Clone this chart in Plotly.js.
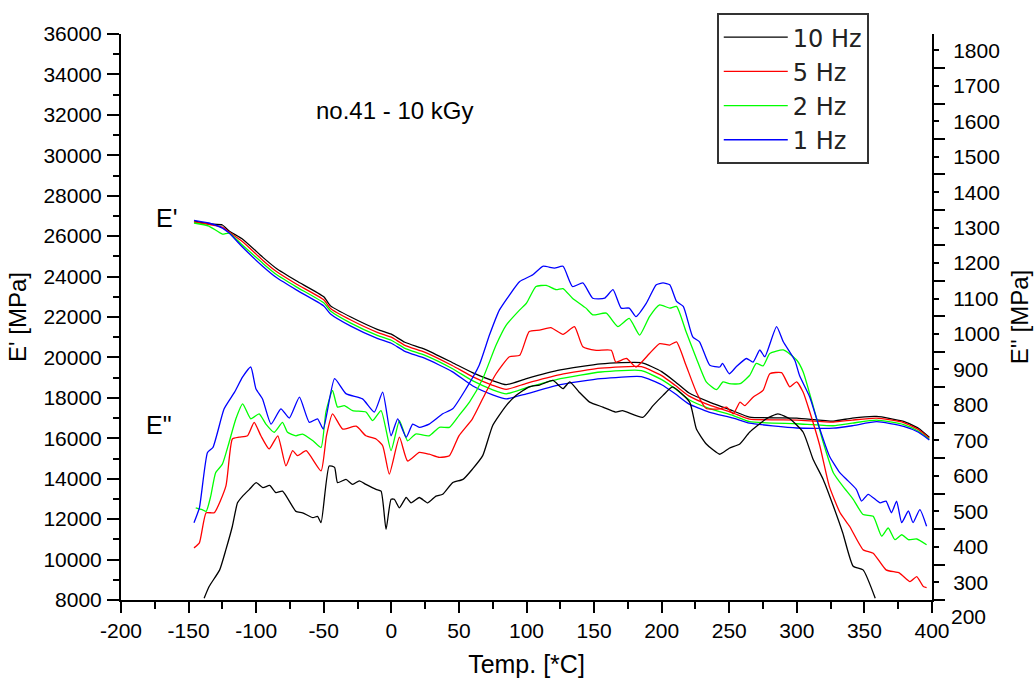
<!DOCTYPE html>
<html>
<head>
<meta charset="utf-8">
<script src="https://cdn.plot.ly/plotly-3.0.1.min.js"></script>
<style>
html,body{margin:0;padding:0;background:#fff;}
#chart{width:1034px;height:681px;}
</style>
</head>
<body>
<div id="chart"></div>
<script>
// ---------- DATA ----------
const seriesNames = ["10 Hz", "5 Hz", "2 Hz", "1 Hz"];
const seriesColors = ["#000000", "#ff0000", "#00ff00", "#0000ff"];

// E' (storage modulus, left axis) - common temperature grid
const tempStorage = [-146,-135,-125,-120,-110,-95,-85,-70,-50,-45,-30,-10,0,10,25,45,60,75,85,100,125,155,185,200,210,220,235,253,265,300,327,341,359,379,390,398];
const storage10Hz = [26750,26600,26550,26250,25850,24950,24400,23780,23000,22550,22000,21380,21150,20750,20400,19750,19250,18850,18650,18950,19380,19680,19740,19300,18800,18250,17800,17350,17050,17000,16850,17000,17080,16840,16500,16050];
const storage5Hz  = [26700,26580,26450,26200,25720,24800,24250,23620,22850,22420,21850,21230,21000,20600,20250,19600,19050,18620,18420,18720,19150,19470,19540,19100,18620,18100,17650,17250,16950,16900,16800,16900,17000,16780,16430,16000];
const storage2Hz  = [26650,26500,26100,26150,25550,24650,24100,23480,22700,22300,21700,21080,20850,20450,20100,19450,18850,18400,18200,18500,18950,19280,19350,18900,18450,17920,17480,17120,16820,16720,16620,16750,16900,16680,16350,15950];
const storage1Hz  = [26780,26650,26400,26150,25450,24500,23950,23330,22550,22150,21550,20930,20700,20300,19950,19300,18600,18150,17950,18200,18650,18950,19050,18650,18200,17700,17300,17000,16750,16510,16500,16620,16820,16590,16300,15920];

// E'' (loss modulus, right axis)
const tempLoss10Hz = [-138.5,-134.8,-127,-122.4,-117.6,-113.8,-110,-105,-100,-95,-90,-85.4,-80.5,-70.6,-65.7,-58,-54.6,-52,-46,-42,-39.8,-33.6,-28.6,-23.7,-18.8,-11.3,-7.6,-3.9,-0.2,2.2,6,11,14.6,20.7,27,33,38,45.4,53,60,67.6,75,85,92.4,102,109.6,119.5,127,132,139,146.7,156.5,166,171,186,193.6,201,208,220.7,225.7,233,243,250,257.8,265,277.5,286,294.8,304.7,312,319.5,327,334,341.7,349,358];
const loss10Hz = [255,288,335,392,458,524,543,562,581,567,573,553,557,500,496,482,486,468,628,624,581,590,576,586,576,562,557,449,534,534,510,539,524,539,524,543,548,581,590,619,657,742,798,827,851,856,869,846,865,836,808,794,780,784,765,798,827,851,808,732,690,661,678,690,723,761,775,761,723,647,590,515,439,345,335,255];

const tempLoss5Hz = [-146,-142,-137,-131,-122.4,-117.6,-112.6,-106.4,-101.5,-96.5,-90.4,-84,-78,-73,-69.4,-63,-52,-48,-43.5,-36,-26,-18.8,-11.3,-6.4,-1.5,6,12,20.7,28,35.6,43,50,60,70,77.5,87.4,95,102,109.6,118,127,135.5,141.7,151.6,162.7,166,174,181,191,198.5,206,211,218,225.7,233,243,248,253,258,261.5,267.6,275,280,288.7,294.8,299.8,304.7,309.6,317,324,332,339,349,356.5,366,376,383.7,388.7,393.6,396];
const loss5Hz = [397,411,496,496,571,704,709,713,751,713,676,713,628,671,657,671,614,713,775,732,740,713,704,685,605,709,642,666,661,652,657,713,761,836,888,936,940,1007,1011,1018,999,1021,964,954,954,921,931,907,945,973,969,978,912,836,790,789,794,775,808,798,822,841,888,891,851,865,836,780,685,571,496,458,392,382,335,326,302,316,288,285];

const tempLoss2Hz = [-144.7,-140,-137,-133.6,-130,-125,-120,-115,-110,-104,-97.8,-92.8,-86.7,-80.5,-76.8,-70.6,-65.7,-58,-52,-48.4,-43.5,-39.8,-34.8,-28.6,-18.8,-13.8,-7.6,-0.2,6,12,18,28,35.6,43,50,57.8,67.6,77.5,85,95,100,107,114.6,122,127,134,144,149,159,167.6,176,183.7,191,198.5,206,211,218,225.7,233,240.5,245.4,250,258,265,270,275,280,290,300,304.7,312,319.5,327,334,341.7,349,356.5,362.7,367.6,372.6,377.6,382.5,388.7,396];
const loss2Hz = [510,505,500,543,609,633,695,761,803,761,775,746,723,751,723,713,718,699,680,780,841,794,798,784,780,756,784,671,756,699,718,713,737,737,770,808,874,969,1025,1068,1087,1134,1137,1125,1128,1101,1073,1054,1059,1021,1044,997,1049,1082,1073,1078,1007,931,865,843,865,860,860,883,917,910,945,955,926,893,798,695,609,571,534,491,486,430,453,420,434,420,422,406];

const tempLoss1Hz = [-146,-142,-136,-132,-123.7,-116,-110,-104,-100.2,-95.3,-89,-81.7,-75.5,-68,-60.7,-54.6,-50.4,-42,-33.6,-21.3,-12.6,-6.4,-0.2,4.7,11,15.8,20.7,28,38,45.4,55.3,65,72.6,80,87.4,95,104.7,112,120.7,127,134,141.7,149,157.8,164,170,176,181,188.7,196,201,206,211,216,223,228,235.6,243,245,250,255,262.7,267.6,272.6,276.3,285,290,298.5,302,309.6,317,324,331.8,336.8,344,347.9,352.8,361.5,366,370,373.8,377.6,382.5,386,391,396];
const loss1Hz = [468,510,666,680,789,836,879,907,846,817,746,789,763,822,751,761,732,874,832,817,780,836,713,761,709,746,737,746,775,789,846,912,997,1068,1110,1148,1167,1191,1186,1191,1134,1144,1101,1101,1125,1073,1073,1049,1087,1139,1144,1139,1092,1078,992,978,912,907,917,888,907,931,921,955,936,1021,978,926,883,822,732,657,609,590,562,529,548,524,529,496,529,468,501,468,505,458];

// axis ticks
const leftTicks = [8000,10000,12000,14000,16000,18000,20000,22000,24000,26000,28000,30000,32000,34000,36000];
const leftTickText = ["8000","10000","12000","14000","16000","18000","20000","22000","24000","26000","28000","30000","32000","34000","36000"];
const rightTicks = [300,400,500,600,700,800,900,1000,1100,1200,1300,1400,1500,1600,1700,1800];
const rightTickText = ["300","400","500","600","700","800","900","1000","1100","1200","1300","1400","1500","1600","1700","1800"];
const xTicks = [-200,-150,-100,-50,0,50,100,150,200,250,300,350,400];
const xTickText = ["-200","-150","-100","-50","0","50","100","150","200","250","300","350","400"];

// ---------- TRACES ----------
const storageY = [storage10Hz, storage5Hz, storage2Hz, storage1Hz];
const lossX = [tempLoss10Hz, tempLoss5Hz, tempLoss2Hz, tempLoss1Hz];
const lossY = [loss10Hz, loss5Hz, loss2Hz, loss1Hz];

const traces = [];
for (let i = 0; i < 4; i++) {
  traces.push({
    x: tempStorage, y: storageY[i], type: 'scatter', mode: 'lines',
    name: seriesNames[i], legendgroup: seriesNames[i], showlegend: true,
    line: {color: seriesColors[i], width: 1.3, shape: 'spline', smoothing: 0.5},
    yaxis: 'y', hoverinfo: 'skip'
  });
}
for (let i = 0; i < 4; i++) {
  traces.push({
    x: lossX[i], y: lossY[i], type: 'scatter', mode: 'lines',
    name: seriesNames[i], legendgroup: seriesNames[i], showlegend: false,
    line: {color: seriesColors[i], width: 1.3, shape: 'spline', smoothing: 0.5},
    yaxis: 'y2', hoverinfo: 'skip'
  });
}

const FONT = 'Liberation Sans, Arial, sans-serif';

const layout = {
  width: 1034, height: 681,
  margin: {l: 121, r: 102, t: 34, b: 81, pad: 0},
  paper_bgcolor: '#ffffff', plot_bgcolor: '#ffffff',
  font: {family: FONT, color: '#000000', size: 21},
  showlegend: true,
  legend: {
    x: 0.7346, y: 1.037, xanchor: 'left', yanchor: 'top',
    bgcolor: '#ffffff', bordercolor: '#333333', borderwidth: 2,
    font: {family: 'DejaVu Sans, sans-serif', size: 24, color: '#222222'},
    itemwidth: 64, tracegroupgap: 0
  },
  xaxis: {
    range: [-200, 400], tickmode: 'array', tickvals: xTicks, ticktext: xTickText,
    showline: true, linecolor: '#000', linewidth: 2,
    ticks: 'outside', ticklen: 11, tickwidth: 2, tickcolor: '#000',
    minor: {ticks: 'outside', ticklen: 7, tickwidth: 2, tickcolor: '#000', dtick: 25, tick0: -200, showgrid: false},
    showgrid: false, zeroline: false,
    tickfont: {family: FONT, size: 21},
    title: {text: 'Temp. [*C]', font: {family: FONT, size: 25}, standoff: 14}
  },
  yaxis: {
    range: [8000, 36000], tickmode: 'array', tickvals: leftTicks, ticktext: leftTickText,
    showline: true, linecolor: '#000', linewidth: 2,
    ticks: 'outside', ticklen: 12, tickwidth: 2, tickcolor: '#000',
    ticklabelstandoff: 1,
    minor: {ticks: 'outside', ticklen: 6, tickwidth: 2, tickcolor: '#000', dtick: 1000, tick0: 8000, showgrid: false},
    showgrid: false, zeroline: false,
    tickfont: {family: FONT, size: 21},
    title: {text: "E' [MPa]", font: {family: FONT, size: 24}, standoff: 10}
  },
  yaxis2: {
    range: [250, 1846], overlaying: 'y', side: 'right',
    tickmode: 'array', tickvals: rightTicks, ticktext: rightTickText,
    showline: true, linecolor: '#000', linewidth: 2,
    ticks: 'outside', ticklen: 5, tickwidth: 2, tickcolor: '#000',
    ticklabelstandoff: 10,
    minor: {ticks: 'outside', ticklen: 11, tickwidth: 2, tickcolor: '#000', dtick: 100, tick0: 250, showgrid: false},
    showgrid: false, zeroline: false,
    tickfont: {family: FONT, size: 21},
    title: {text: "E'' [MPa]", font: {family: FONT, size: 24}, standoff: 12}
  },
  annotations: [
    {text: 'no.41 - 10 kGy', xref: 'paper', yref: 'paper', x: 0.337, y: 0.864, showarrow: false, font: {family: FONT, size: 24}, xanchor: 'center', yanchor: 'middle'},
    {text: "E'", xref: 'paper', yref: 'paper', x: 0.0556, y: 0.675, showarrow: false, font: {family: FONT, size: 25}, xanchor: 'center', yanchor: 'middle'},
    {text: 'E"', xref: 'paper', yref: 'paper', x: 0.047, y: 0.309, showarrow: false, font: {family: FONT, size: 25}, xanchor: 'center', yanchor: 'middle'},
    {text: '200', xref: 'paper', yref: 'paper', x: 1.021, y: -0.030, showarrow: false, font: {family: FONT, size: 21}, xanchor: 'left', yanchor: 'middle'}
  ]
};

Plotly.newPlot('chart', traces, layout, {staticPlot: true, displayModeBar: false});
</script>
</body>
</html>
